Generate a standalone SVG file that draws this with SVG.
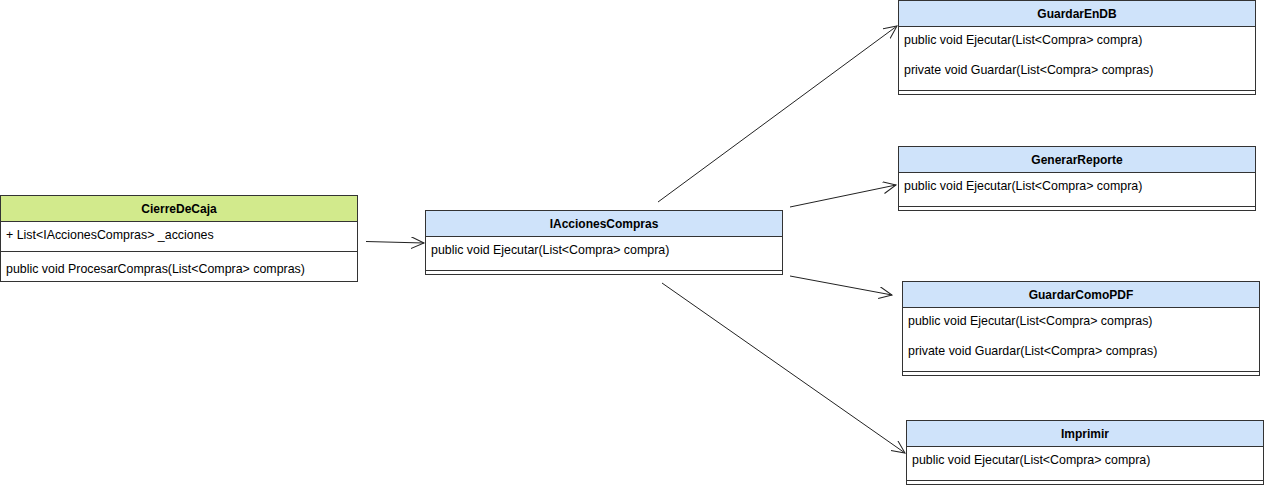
<svg xmlns="http://www.w3.org/2000/svg" width="1265" height="485" viewBox="0 0 1265 485">
<style>
.box{fill:#ffffff;stroke:#333333;stroke-width:1}
.hb{fill:#cfe3fa;stroke:#333333;stroke-width:1}
.hg{fill:#d2ea8c;stroke:#333333;stroke-width:1}
.ln{stroke:#333333;stroke-width:1;fill:none}
.t{font-family:"Liberation Sans",Arial,sans-serif;font-size:12.4px;fill:#000000}
.h{font-family:"Liberation Sans",Arial,sans-serif;font-size:12px;font-weight:bold;fill:#000000;text-anchor:middle}
.c{stroke:#222222;stroke-width:1;fill:none;marker-end:url(#arr)}
</style>
<defs>
<marker id="arr" markerUnits="userSpaceOnUse" markerWidth="16" markerHeight="14" refX="13" refY="6" orient="auto">
<path d="M0,0 L13,6 L0,12" fill="none" stroke="#222222" stroke-width="1"/>
</marker>
</defs>
<g id="connectors">
<line class="c" x1="366" y1="241.5" x2="424" y2="243"/>
<line class="c" x1="658" y1="202" x2="897" y2="26"/>
<line class="c" x1="790" y1="207" x2="896" y2="185"/>
<line class="c" x1="790" y1="276" x2="892" y2="295"/>
<line class="c" x1="662" y1="283" x2="905" y2="453"/>
</g>
<g id="CierreDeCaja">
<rect class="box" x="0.5" y="195.5" width="357" height="86"/>
<rect class="hg" x="0.5" y="195.5" width="357" height="26"/>
<line class="ln" x1="0.5" y1="251.5" x2="357.5" y2="251.5"/>
<text class="h" x="179" y="213">CierreDeCaja</text>
<text class="t" x="6" y="239">+ List&lt;IAccionesCompras&gt; _acciones</text>
<text class="t" x="6" y="273">public void ProcesarCompras(List&lt;Compra&gt; compras)</text>
</g>
<g id="IAccionesCompras">
<rect class="box" x="425.5" y="210.5" width="357" height="64"/>
<rect class="hb" x="425.5" y="210.5" width="357" height="26"/>
<line class="ln" x1="425.5" y1="270.5" x2="782.5" y2="270.5"/>
<text class="h" x="604" y="228">IAccionesCompras</text>
<text class="t" x="431" y="254">public void Ejecutar(List&lt;Compra&gt; compra)</text>
</g>
<g id="GuardarEnDB">
<rect class="box" x="898.5" y="0.5" width="357" height="94"/>
<rect class="hb" x="898.5" y="0.5" width="357" height="26"/>
<line class="ln" x1="898.5" y1="90.5" x2="1255.5" y2="90.5"/>
<text class="h" x="1077" y="18">GuardarEnDB</text>
<text class="t" x="904" y="44">public void Ejecutar(List&lt;Compra&gt; compra)</text>
<text class="t" x="904" y="74">private void Guardar(List&lt;Compra&gt; compras)</text>
</g>
<g id="GenerarReporte">
<rect class="box" x="898.5" y="146.5" width="357" height="64"/>
<rect class="hb" x="898.5" y="146.5" width="357" height="26"/>
<line class="ln" x1="898.5" y1="206.5" x2="1255.5" y2="206.5"/>
<text class="h" x="1077" y="164">GenerarReporte</text>
<text class="t" x="904" y="190">public void Ejecutar(List&lt;Compra&gt; compra)</text>
</g>
<g id="GuardarComoPDF">
<rect class="box" x="902.5" y="281.5" width="357" height="94"/>
<rect class="hb" x="902.5" y="281.5" width="357" height="26"/>
<line class="ln" x1="902.5" y1="371.5" x2="1259.5" y2="371.5"/>
<text class="h" x="1081" y="299">GuardarComoPDF</text>
<text class="t" x="908" y="325">public void Ejecutar(List&lt;Compra&gt; compras)</text>
<text class="t" x="908" y="355">private void Guardar(List&lt;Compra&gt; compras)</text>
</g>
<g id="Imprimir">
<rect class="box" x="906.5" y="420.5" width="357" height="64"/>
<rect class="hb" x="906.5" y="420.5" width="357" height="26"/>
<line class="ln" x1="906.5" y1="480.5" x2="1263.5" y2="480.5"/>
<text class="h" x="1085" y="438">Imprimir</text>
<text class="t" x="912" y="464">public void Ejecutar(List&lt;Compra&gt; compra)</text>
</g>
</svg>
